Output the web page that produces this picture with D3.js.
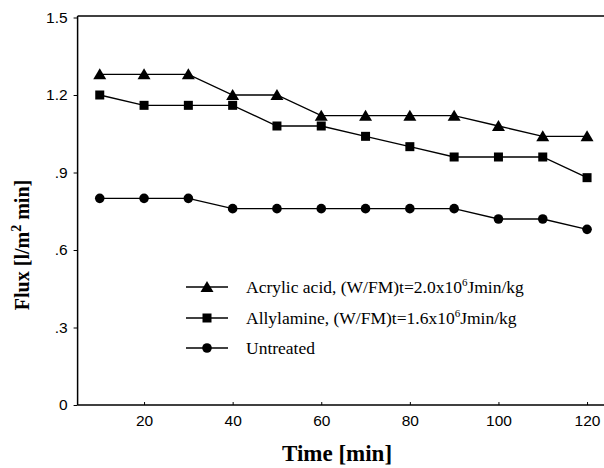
<!DOCTYPE html>
<html>
<head>
<meta charset="utf-8">
<script src="https://cdn.jsdelivr.net/npm/d3@7"></script>
<style>
  body { margin: 0; background: #fff; }
  svg { display: block; }
</style>
</head>
<body>
<svg id="chart" width="604" height="468"></svg>
<script>
var times = [10, 20, 30, 40, 50, 60, 70, 80, 90, 100, 110, 120];
var acrylic = [1.28, 1.28, 1.28, 1.20, 1.20, 1.12, 1.12, 1.12, 1.12, 1.08, 1.04, 1.04];
var allylamine = [1.20, 1.16, 1.16, 1.16, 1.08, 1.08, 1.04, 1.00, 0.96, 0.96, 0.96, 0.88];
var untreated = [0.80, 0.80, 0.80, 0.76, 0.76, 0.76, 0.76, 0.76, 0.76, 0.72, 0.72, 0.68];
var xTicks = [20, 40, 60, 80, 100, 120];
var yTicks = [0, 0.3, 0.6, 0.9, 1.2, 1.5];
var yTickLabels = ["0", ".3", ".6", ".9", "1.2", "1.5"];

var series = [
  {name: "Acrylic acid, (W/FM)t=2.0x10", sup: "6", rest: "Jmin/kg", values: acrylic, marker: "triangle"},
  {name: "Allylamine, (W/FM)t=1.6x10", sup: "6", rest: "Jmin/kg", values: allylamine, marker: "square"},
  {name: "Untreated", sup: "", rest: "", values: untreated, marker: "circle"}
];

var svg = d3.select("#chart");

var x = d3.scaleLinear().domain([5, 125]).range([77.6, 609.2]);
var y = d3.scaleLinear().domain([0, 1.5]).range([405, 17.5]);

// frame: left axis, bottom axis, top line
svg.append("line").attr("x1", 77.6).attr("x2", 604).attr("y1", 16).attr("y2", 16)
  .attr("stroke", "#000").attr("stroke-width", 1.5);

var xAxis = svg.append("g")
  .attr("transform", "translate(0,405)")
  .call(d3.axisBottom(x).tickValues(xTicks).tickSize(-3).tickPadding(10).tickFormat(d3.format("d")));
xAxis.select(".domain").attr("d", "M77.6,0H604").attr("stroke-width", 1.5);
xAxis.selectAll("text").attr("font-family", "Liberation Sans, Arial, sans-serif").attr("font-size", 15.5).attr("fill", "#000");

var yAxis = svg.append("g")
  .attr("transform", "translate(77.6,0)")
  .call(d3.axisLeft(y).tickValues(yTicks).tickSize(4).tickPadding(6)
    .tickFormat(function(d, i){ return yTickLabels[i]; }));
yAxis.select(".domain").attr("d", "M0,16V405").attr("stroke-width", 1.5);
yAxis.selectAll("text").attr("font-family", "Liberation Sans, Arial, sans-serif").attr("font-size", 15.5).attr("fill", "#000");

// axis titles
svg.append("text")
  .attr("x", 337).attr("y", 461)
  .attr("text-anchor", "middle")
  .attr("font-family", "Liberation Serif, Times New Roman, serif")
  .attr("font-weight", "bold").attr("font-size", 23)
  .text("Time [min]");

var yl = svg.append("text")
  .attr("transform", "translate(29,245) rotate(-90)")
  .attr("text-anchor", "middle")
  .attr("font-family", "Liberation Serif, Times New Roman, serif")
  .attr("font-weight", "bold").attr("font-size", 20);
yl.append("tspan").text("Flux [l/m");
yl.append("tspan").attr("dy", -8).attr("font-size", 14).text("2");
yl.append("tspan").attr("dy", 8).text(" min]");

function drawMarker(g, type){
  if(type === "triangle"){
    g.append("path").attr("d", "M0,-6L6.5,5L-6.5,5Z").attr("fill", "#000");
  } else if(type === "square"){
    g.append("rect").attr("x", -4.5).attr("y", -4.5).attr("width", 9).attr("height", 9).attr("fill", "#000");
  } else {
    g.append("circle").attr("r", 4.8).attr("fill", "#000");
  }
}

var line = d3.line()
  .x(function(d){ return x(d[0]); })
  .y(function(d){ return y(d[1]); });

series.forEach(function(s){
  var pts = times.map(function(t, i){ return [t, s.values[i]]; });
  svg.append("path").datum(pts)
    .attr("d", line)
    .attr("fill", "none").attr("stroke", "#000").attr("stroke-width", 1.3);
  svg.selectAll("g.m-" + s.marker)
    .data(pts).enter()
    .append("g").attr("class", "m-" + s.marker)
    .attr("transform", function(d){ return "translate(" + x(d[0]) + "," + y(d[1]) + ")"; })
    .each(function(){ drawMarker(d3.select(this), s.marker); });
});

// legend
var legendY = [287, 318, 348];
series.forEach(function(s, i){
  var g = svg.append("g").attr("transform", "translate(0," + legendY[i] + ")");
  g.append("line").attr("x1", 186).attr("x2", 228).attr("y1", 0).attr("y2", 0)
    .attr("stroke", "#000").attr("stroke-width", 1.5);
  var m = g.append("g").attr("transform", "translate(207,0)");
  drawMarker(m, s.marker);
  var t = g.append("text").attr("x", 246).attr("y", 6)
    .attr("font-family", "Liberation Serif, Times New Roman, serif")
    .attr("font-size", 17.5).attr("fill", "#000");
  t.append("tspan").text(s.name);
  if(s.sup){
    t.append("tspan").attr("dy", -7).attr("font-size", 11).text(s.sup);
    t.append("tspan").attr("dy", 7).text(s.rest);
  }
});
</script>
</body>
</html>
